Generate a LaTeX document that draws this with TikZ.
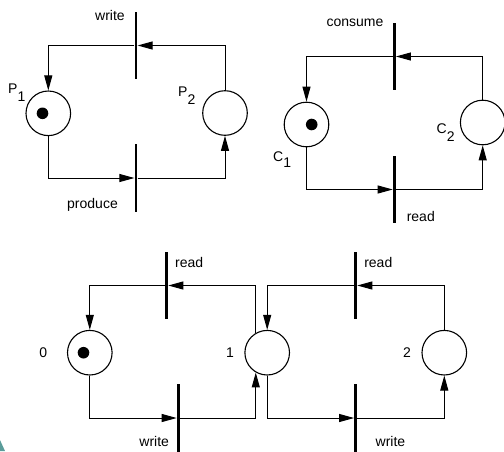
\documentclass[tikz,border=0pt]{standalone}
\usepackage{fontspec}
\setmainfont{Liberation Sans}
\usetikzlibrary{arrows.meta,calc}
\definecolor{cornerteal}{HTML}{5A9C9A}
\begin{document}
\begin{tikzpicture}[x=1pt,y=-1pt,
  place/.style={circle,draw,line width=1.1pt,minimum size=44.6pt,inner sep=0pt},
  trans/.style={rectangle,fill=black,inner sep=0pt,minimum width=2.8pt,minimum height=67.5pt},
  arc/.style={line width=1pt,-{Triangle[length=15pt,width=8pt]}},
  plain/.style={line width=1pt},
  lbl/.style={inner sep=0pt,font=\fontsize{14}{16}\selectfont,anchor=base},
  sublbl/.style={inner sep=0pt,font=\fontsize{14}{16}\selectfont,anchor=base west}]
\useasboundingbox (0,0) rectangle (504,451);
\fill[cornerteal] (0,440) -- (5,451) -- (0,451) -- cycle;

% ---------- producer net ----------
\node[place] (p1) at (48.3,113.3) {};
\node[place] (p2) at (225,113) {};
\node[trans] (write) at (136,45.5) {};
\node[trans] (produce) at (136,178) {};
\fill ($(p1.center)+(-5.8,0)$) circle (5.8pt);
\draw[arc] (p2) |- (write);
\draw[arc] (write) -| (p1);
\draw[arc] (p1) |- (produce);
\draw[arc] (produce) -| (p2);
\node[lbl] (lwrite) at (110,20.7) {write};
\node[lbl] (lproduce) at (92.5,208.5) {produce};
\node[sublbl] (lp1) at (8,93) {P\raisebox{-8pt}{1}};
\node[sublbl] (lp2) at (178,96) {P\raisebox{-8pt}{2}};

% ---------- consumer net ----------
\node[place] (c1) at (306.5,124.5) {};
\node[place] (c2) at (482.7,122.5) {};
\node[trans] (consume) at (394.3,56.5) {};
\node[trans] (read) at (394.3,189.5) {};
\fill ($(c1.center)+(5.2,0)$) circle (5.8pt);
\draw[arc] (c2) |- (consume);
\draw[arc] (consume) -| (c1);
\draw[arc] (c1) |- (read);
\draw[arc] (read) -| (c2);
\node[lbl] (lconsume) at (355,26) {consume};
\node[lbl] (lread) at (420.8,221.7) {read};
\node[sublbl] (lc1) at (273,161) {C\raisebox{-6pt}{1}};
\node[sublbl] (lc2) at (436.5,133) {C\raisebox{-8pt}{2}};

% ---------- buffer net ----------
\node[place] (q0) at (89.8,352.7) {};
\node[place] (q1) at (267.2,352.7) {};
\node[place] (q2) at (444.3,352.7) {};
\node[trans] (readA) at (166.7,285.5) {};
\node[trans] (readB) at (355.7,285.5) {};
\node[trans] (writeA) at (178.3,418) {};
\node[trans] (writeB) at (355.7,418) {};
\fill ($(q0.center)+(-6.3,0)$) circle (5.8pt);
\draw[arc] (q1.120) |- (readA);
\draw[arc] (readA) -| (q0);
\draw[arc] (q0) |- (writeA);
\draw[arc] (writeA) -| (q1.240);
\draw[arc] (q2) |- (readB);
\draw[arc] (readB) -| (q1);
\draw[arc] (q1) |- (writeB);
\draw[arc] (writeB) -| (q2);
\node[lbl] (lreadA) at (189.2,267.3) {read};
\node[lbl] (lreadB) at (378.3,267.3) {read};
\node[lbl] (lwriteA) at (154.2,446.7) {write};
\node[lbl] (lwriteB) at (390.5,446.7) {write};
\node[lbl] (l0) at (43.3,357.3) {0};
\node[lbl] (l1) at (230,357.3) {1};
\node[lbl] (l2) at (407,357.3) {2};
\end{tikzpicture}
\end{document}
